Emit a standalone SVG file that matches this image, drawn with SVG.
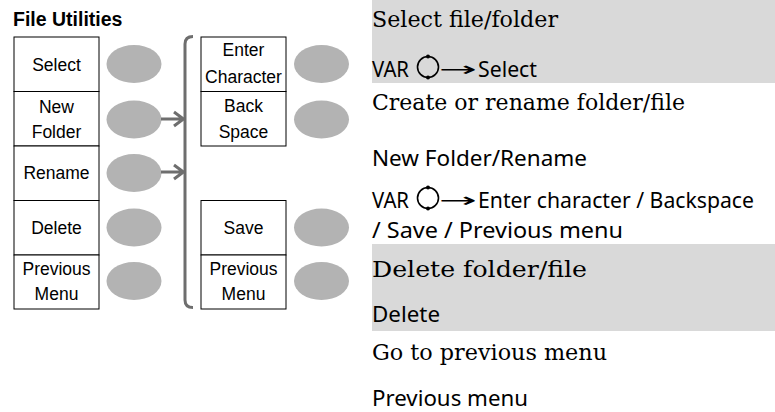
<svg xmlns="http://www.w3.org/2000/svg" width="775" height="412" viewBox="0 0 775 412">
<style>
.box{fill:#fff;stroke:#000;stroke-width:1}
.btn{fill:#b3b3b3}
.lbl{font-family:"Liberation Sans",Arial,sans-serif;font-size:17.5px;fill:#000;text-anchor:middle}
.title{font-family:"Liberation Sans",Arial,sans-serif;font-size:19.5px;font-weight:bold;fill:#000}
.con{fill:none;stroke:#6e6e6e;stroke-width:3}
.band{fill:#d9d9d9}
.ser{font-family:"DejaVu Serif","Liberation Serif",serif;font-size:21.5px;fill:#000}
.sans{font-family:"Noto Sans","Open Sans",sans-serif;font-size:21px;fill:#000}
.arr{font-family:"DejaVu Sans",sans-serif;font-size:20px;fill:#000}
.knob{fill:none;stroke:#000;stroke-width:1.6}
</style>
<rect class="band" x="372" y="0" width="403" height="83"/>
<rect class="band" x="372" y="244" width="403" height="87"/>
<text class="title" x="13" y="26">File Utilities</text>
<g id="select"><rect class="box" x="14" y="37" width="85" height="54.5"/><text class="lbl" x="56.5" y="70.5">Select</text><ellipse class="btn" cx="134" cy="64" rx="27.5" ry="19"/></g>
<g id="new-folder"><rect class="box" x="14" y="91.5" width="85" height="54.5"/><text class="lbl" x="56.5" y="112.5">New</text><text class="lbl" x="56.5" y="137.5">Folder</text><ellipse class="btn" cx="134" cy="119.5" rx="27.5" ry="19"/></g>
<g id="rename"><rect class="box" x="14" y="146" width="85" height="54.5"/><text class="lbl" x="56.5" y="179">Rename</text><ellipse class="btn" cx="134" cy="173" rx="27.5" ry="19"/></g>
<g id="delete"><rect class="box" x="14" y="200.5" width="85" height="54.5"/><text class="lbl" x="56.5" y="233.5">Delete</text><ellipse class="btn" cx="134" cy="227.5" rx="27.5" ry="19"/></g>
<g id="previous-menu"><rect class="box" x="14" y="255" width="85" height="54"/><text class="lbl" x="56.5" y="275">Previous</text><text class="lbl" x="56.5" y="300">Menu</text><ellipse class="btn" cx="134" cy="281" rx="27.5" ry="19"/></g>
<g id="enter-character"><rect class="box" x="201" y="37" width="85" height="54.5"/><text class="lbl" x="243.5" y="56">Enter</text><text class="lbl" x="243.5" y="82.5">Character</text><ellipse class="btn" cx="321.5" cy="64" rx="27.5" ry="19"/></g>
<g id="back-space"><rect class="box" x="201" y="91.5" width="85" height="54.5"/><text class="lbl" x="243.5" y="112">Back</text><text class="lbl" x="243.5" y="137.5">Space</text><ellipse class="btn" cx="321.5" cy="119.5" rx="27.5" ry="19"/></g>
<g id="save"><rect class="box" x="201" y="200.5" width="85" height="54.5"/><text class="lbl" x="243.5" y="234">Save</text><ellipse class="btn" cx="321.5" cy="227.5" rx="27.5" ry="19"/></g>
<g id="previous-menu-2"><rect class="box" x="201" y="255" width="85" height="54"/><text class="lbl" x="243.5" y="275">Previous</text><text class="lbl" x="243.5" y="300">Menu</text><ellipse class="btn" cx="321.5" cy="281" rx="27.5" ry="19"/></g>
<g id="connectors">
<path class="con" d="M193,36.5 Q185,36.5 185,44 L185,300 Q185,307.5 193,307.5"/>
<path class="con" d="M161,119 H183 M174,112 L183.5,119 L174,126"/>
<path class="con" d="M161,172 H183 M174,165 L183.5,172 L174,179"/>
</g>
<g id="descriptions">
<text class="ser" x="372" y="27" textLength="186" lengthAdjust="spacingAndGlyphs">Select file/folder</text>
<text class="sans" x="372" y="77" textLength="37" lengthAdjust="spacingAndGlyphs">VAR</text>
<circle class="knob" cx="428" cy="67" r="10.5"/><circle cx="428" cy="56.5" r="2"/><circle cx="428" cy="77.5" r="2"/>
<text class="arr" x="439" y="76" textLength="38" lengthAdjust="spacingAndGlyphs">→</text>
<text class="sans" x="478" y="77" textLength="59" lengthAdjust="spacingAndGlyphs">Select</text>
<text class="ser" x="372" y="110" textLength="313" lengthAdjust="spacingAndGlyphs">Create or rename folder/file</text>
<text class="sans" x="372" y="166" textLength="215" lengthAdjust="spacingAndGlyphs">New Folder/Rename</text>
<text class="sans" x="372" y="208" textLength="37" lengthAdjust="spacingAndGlyphs">VAR</text>
<circle class="knob" cx="428" cy="198" r="10.5"/><circle cx="428" cy="187.5" r="2"/><circle cx="428" cy="208.5" r="2"/>
<text class="arr" x="439" y="207" textLength="38" lengthAdjust="spacingAndGlyphs">→</text>
<text class="sans" x="478" y="208" textLength="276" lengthAdjust="spacingAndGlyphs">Enter character / Backspace</text>
<text class="sans" x="372" y="238" textLength="251" lengthAdjust="spacingAndGlyphs">/ Save / Previous menu</text>
<text class="ser" x="372" y="277" textLength="215" lengthAdjust="spacingAndGlyphs">Delete folder/file</text>
<text class="sans" x="372" y="322" textLength="68" lengthAdjust="spacingAndGlyphs">Delete</text>
<text class="ser" x="372" y="360" textLength="235" lengthAdjust="spacingAndGlyphs">Go to previous menu</text>
<text class="sans" x="372" y="406" textLength="156" lengthAdjust="spacingAndGlyphs">Previous menu</text>
</g>
</svg>
